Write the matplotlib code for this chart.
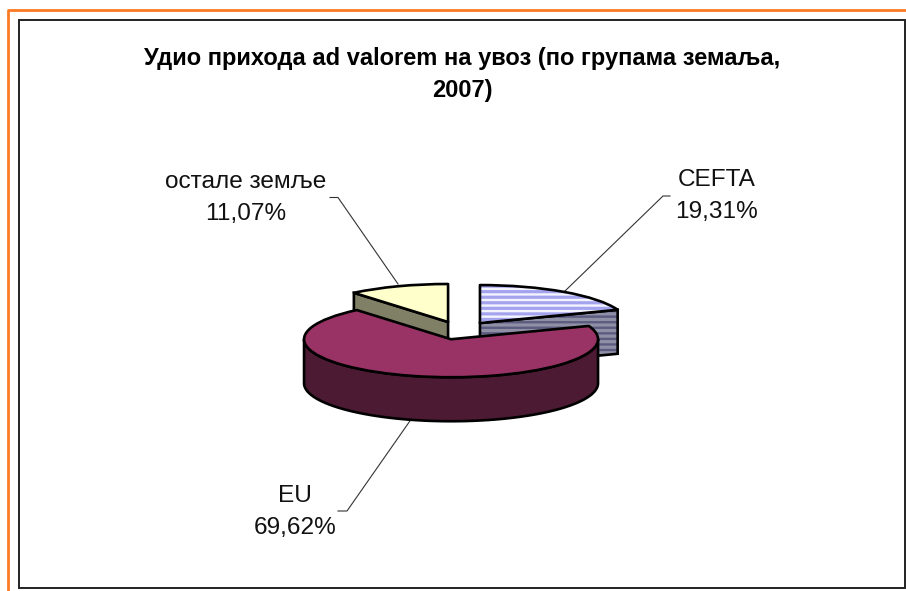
import numpy as np
import matplotlib
matplotlib.use("Agg")
import matplotlib.pyplot as plt
from matplotlib.patches import PathPatch, Polygon, Rectangle
from matplotlib.transforms import Affine2D

plt.rcParams['font.family'] = ['Liberation Sans', 'DejaVu Sans']
plt.rcParams['hatch.linewidth'] = 2.3

# chart data
categories = ['CEFTA', 'EU', 'остале земље']
shares = [19.31, 69.62, 11.07]
title = 'Удио прихода ad valorem на увоз (по групама земаља,\n2007)'

top_colors = ['#f4f4ff', '#993366', '#ffffcc']
side_colors = ['#5c5c80', '#4c1a33', '#808066']
stripe_colors = ['#a4a4ee', None, None]
side_stripe = '#8f8fa6'

# layout, all in image pixels
W, H = 906, 591
cx, cy = 460, 330.5
radius = 147
tilt = 0.2585
depth = 44
explode = 35
label_xy = [(716.5, 186), (295, 502), (246, 188)]
leaders = [
    ([670, 663, 565], [196, 196, 291]),
    ([338, 347, 412], [511, 511, 418]),
    ([330, 338, 398], [197.5, 197.5, 284]),
]

fig = plt.figure(figsize=(W / 100, H / 100), dpi=100)
ax = fig.add_axes([0, 0, 1, 1])

# y axis points down here, so angles grow clockwise on screen and -90 is the top
wedges, _ = ax.pie(shares, explode=[explode] * 3, center=(cx, cy), radius=radius,
                   startangle=-90, counterclock=True)
ax.set_aspect('auto')
ax.set_xlim(0, W)
ax.set_ylim(H, 0)
ax.axis('off')

squash = Affine2D().translate(0, -cy).scale(1, tilt).translate(0, cy) + ax.transData


def rim(wedge, a1, a2):
    t = np.radians(np.linspace(a1, a2, 80))
    return wedge.center[0] + radius * np.cos(t), wedge.center[1] + radius * np.sin(t)


def wall(xs, ys, color, z, stripes=None):
    # ys come in flat pie coordinates, the depth is added after the squash
    ys = cy + (np.asarray(ys) - cy) * tilt
    pts = np.column_stack([np.r_[xs, xs[::-1]], np.r_[ys, ys[::-1] + depth]])
    if stripes:
        ax.add_patch(Polygon(pts, facecolor=color, edgecolor=stripes, hatch='---', lw=0, zorder=z))
    else:
        ax.add_patch(Polygon(pts, facecolor=color, edgecolor='none', zorder=z))
    ax.add_patch(Polygon(pts, fill=False, edgecolor='black', lw=1.9, zorder=z + 0.1))


def radial_wall(wedge, angle, color, z, stripes=None):
    x0, y0 = wedge.center
    x1, y1 = rim(wedge, angle, angle)
    wall(np.array([x0, x1[0]]), np.array([y0, y1[0]]), color, z, stripes)


cefta, eu, other = wedges

radial_wall(other, other.theta1, side_colors[2], 1)
radial_wall(cefta, cefta.theta2, side_colors[0], 1, side_stripe)

xs, ys = rim(eu, max(eu.theta1, 0), min(eu.theta2, 180))
wall(xs, ys, side_colors[1], 3)

for w, top, stripe, z in zip(wedges, top_colors, stripe_colors, [2, 4, 2]):
    w.set_transform(squash)
    w.set_zorder(z)
    w.set_facecolor(top)
    w.set_linewidth(0)
    if stripe:
        w.set_hatch('---')
        w.set_edgecolor(stripe)
    # outline as a second patch, the hatch takes the edge colour of its own patch
    ax.add_patch(PathPatch(w.get_path(), fill=False, edgecolor='black', lw=1.9,
                           joinstyle='round', zorder=z + 0.1, transform=squash))

for (lx, ly), name, share in zip(label_xy, categories, shares):
    value = f'{share:.2f}'.replace('.', ',') + '%'
    ax.text(lx, ly, name, ha='center', va='baseline', fontsize=17.6, color='#111111')
    ax.text(lx, ly + 32, value, ha='center', va='baseline', fontsize=17.6, color='#111111')

for xs, ys in leaders:
    ax.plot(xs, ys, color='#333333', lw=0.8, zorder=0.5)

line1, line2 = title.split('\n')
ax.text(462, 65, line1, ha='center', va='baseline', fontsize=17, fontweight='bold', color='black')
ax.text(462, 97, line2, ha='center', va='baseline', fontsize=17, fontweight='bold', color='black')

# outer orange page rule and the chart frame
ax.plot([7.5, 7.5, W], [H, 9.5, 9.5], color='#fb7a24', lw=2, clip_on=False)
ax.add_patch(Rectangle((18.5, 20), 886, 567.5, fill=False, edgecolor='#222222', lw=1.4, zorder=5))

fig.savefig('out.png', dpi=100)
